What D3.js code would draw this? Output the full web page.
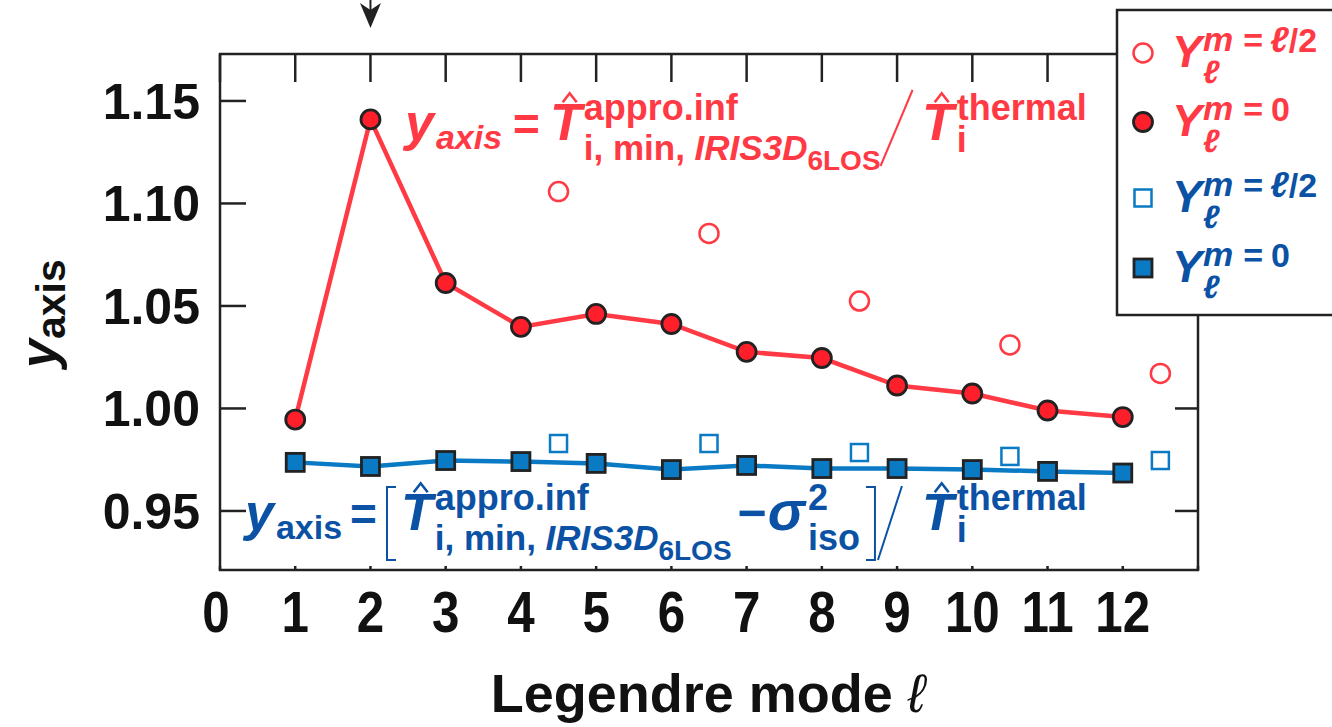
<!DOCTYPE html>
<html>
<head>
<meta charset="utf-8">
<script src="https://cdn.jsdelivr.net/npm/d3@7"></script>
<style>
  html, body { margin: 0; padding: 0; background: #fff; }
  svg text { font-family: "Liberation Sans", Arial, Helvetica, sans-serif; font-weight: bold; }
</style>
</head>
<body>
<svg id="chart" width="1332" height="727"></svg>
<script>
// data
const modes = [1, 2, 3, 4, 5, 6, 7, 8, 9, 10, 11, 12];
const redM0 = [0.9946, 1.1410, 1.0612, 1.0398, 1.0461, 1.0412, 1.0276, 1.0246, 1.0112, 1.0073, 0.9990, 0.9958];
const blueM0 = [0.9737, 0.9717, 0.9746, 0.9741, 0.9732, 0.9702, 0.9722, 0.9707, 0.9707, 0.9702, 0.9693, 0.9685];
const halfModes = [4.5, 6.5, 8.5, 10.5, 12.5];
const redHalf = [1.1058, 1.0854, 1.0524, 1.0310, 1.0171];
const blueHalf = [0.9829, 0.9829, 0.9785, 0.9766, 0.9746];
const xTicks = [0, 1, 2, 3, 4, 5, 6, 7, 8, 9, 10, 11, 12, 13];
const xTickLabels = ['0', '1', '2', '3', '4', '5', '6', '7', '8', '9', '10', '11', '12'];
const yTicks = [0.95, 1.00, 1.05, 1.10, 1.15];
const legendRhs = ['\u2113/2', '0', '\u2113/2', '0'];

const RED = '#ff3a44', RED_FILL = '#ff1f2b', BLUE = '#0a7ac4', BLUE_TXT = '#0b52a5', INK = '#222';

const svg = d3.select('#chart');
const pLeft = 220, pRight = 1198, pTop = 54, pBottom = 570;

const x = d3.scaleLinear().domain([0, 13]).range([pLeft, pRight]);
const y = d3.scaleLinear().domain([0.9212, 1.1729]).range([pBottom, pTop]);

// ticks
const ticks = svg.append('g').attr('stroke', INK).attr('stroke-width', 2.5);
xTicks.forEach(t => {
  ticks.append('line').attr('x1', x(t)).attr('x2', x(t)).attr('y1', pTop).attr('y2', pTop + 28);
  ticks.append('line').attr('x1', x(t)).attr('x2', x(t)).attr('y1', pBottom).attr('y2', pBottom - 4);
});
yTicks.forEach(t => {
  ticks.append('line').attr('x1', pLeft).attr('x2', pLeft + 26).attr('y1', y(t)).attr('y2', y(t));
  ticks.append('line').attr('x1', pRight).attr('x2', pRight - 23).attr('y1', y(t)).attr('y2', y(t));
});

// frame
svg.append('rect').attr('x', pLeft).attr('y', pTop).attr('width', pRight - pLeft).attr('height', pBottom - pTop)
  .attr('fill', 'none').attr('stroke', INK).attr('stroke-width', 2.5);

// tick labels
svg.append('g').selectAll('text').data(xTickLabels).enter().append('text')
  .attr('text-anchor', 'middle')
  .attr('transform', (d, i) => 'translate(' + (x(i) - (i === 0 ? 4 : 0)) + ',632) scale(0.85,1)')
  .style('font-size', '58px').attr('fill', '#111').text(d => d);
svg.append('g').selectAll('text').data(yTicks).enter().append('text')
  .attr('text-anchor', 'end').attr('x', 200).attr('y', d => y(d) + 18)
  .style('font-size', '50px').attr('fill', '#111').text(d => d3.format('.2f')(d));

// axis titles
svg.append('text').attr('x', 708).attr('y', 712).attr('text-anchor', 'middle')
  .style('font-size', '54px').attr('fill', '#111')
  .call(t => {
    t.append('tspan').text('Legendre mode ');
    t.append('tspan').style('font-style', 'italic').style('font-weight', 'normal').text('\u2113');
  });
const yl = svg.append('text').attr('transform', 'translate(56,368) rotate(-90)').attr('fill', '#111');
yl.append('tspan').style('font-size', '52px').style('font-style', 'italic').text('y');
yl.append('tspan').style('font-size', '41px').attr('dy', 9).text('axis');

// lines
const line = d3.line().x(d => x(d[0])).y(d => y(d[1]));
svg.append('path').datum(modes.map((m, i) => [m, blueM0[i]])).attr('d', line)
  .attr('fill', 'none').attr('stroke', BLUE).attr('stroke-width', 4.5);
svg.append('path').datum(modes.map((m, i) => [m, redM0[i]])).attr('d', line)
  .attr('fill', 'none').attr('stroke', RED).attr('stroke-width', 4.5);

// markers
svg.append('g').selectAll('rect').data(halfModes).enter().append('rect')
  .attr('x', (d) => x(d) - 8.5).attr('y', (d, i) => y(blueHalf[i]) - 8.5)
  .attr('width', 17).attr('height', 17).attr('fill', '#fff').attr('stroke', BLUE).attr('stroke-width', 2.5);
svg.append('g').selectAll('rect').data(modes).enter().append('rect')
  .attr('x', (d) => x(d) - 9).attr('y', (d, i) => y(blueM0[i]) - 9)
  .attr('width', 18).attr('height', 18).attr('fill', BLUE).attr('stroke', INK).attr('stroke-width', 2.8);
svg.append('g').selectAll('circle').data(halfModes).enter().append('circle')
  .attr('cx', d => x(d)).attr('cy', (d, i) => y(redHalf[i])).attr('r', 9.5)
  .attr('fill', 'none').attr('stroke', RED).attr('stroke-width', 2.5);
svg.append('g').selectAll('circle').data(modes).enter().append('circle')
  .attr('cx', d => x(d)).attr('cy', (d, i) => y(redM0[i])).attr('r', 9.5)
  .attr('fill', RED_FILL).attr('stroke', INK).attr('stroke-width', 2.8);

// arrow above the l=2 peak
const ax = x(2);
svg.append('line').attr('x1', ax).attr('x2', ax).attr('y1', 0).attr('y2', 12).attr('stroke', INK).attr('stroke-width', 2);
svg.append('path').attr('d', `M${ax - 10.5},3 L${ax},28 L${ax + 10.5},3 L${ax},10 Z`).attr('fill', INK);

// math text helper: lays pieces out left to right, returns end x
function place(g, x0, base, list, color) {
  let cx = x0;
  list.forEach(p => {
    if (p.at !== undefined) cx = p.at;
    if (p.sup || p.sub) {
      cx += p.dx || 0;
      const a = place(g, cx, base, p.sup || [], color);
      const b = place(g, cx, base, p.sub || [], color);
      cx = Math.max(a, b);
    } else if (p.slash) {
      cx += p.dx || 0;
      g.append('line').attr('x1', cx).attr('y1', base + p.lo).attr('x2', cx + p.w).attr('y2', base - p.hi)
        .attr('stroke', color).attr('stroke-width', 2);
      cx += p.w + (p.after || 0);
    } else if (p.bracket) {
      cx += p.dx || 0;
      const s = p.bracket === '[' ? 1 : -1;
      const bx = p.bracket === '[' ? cx : cx + 9;
      g.append('path').attr('d', `M${bx + s * 9},${base - p.hi} H${bx} V${base + p.lo} H${bx + s * 9}`)
        .attr('fill', 'none').attr('stroke', color).attr('stroke-width', 2);
      cx += 9 + (p.after || 0);
    } else {
      cx += p.dx || 0;
      const t = g.append('text').attr('x', cx).attr('y', base + (p.dy || 0)).attr('fill', color)
        .style('font-size', p.fs + 'px').style('font-style', p.it ? 'italic' : 'normal').text(p.t);
      const w = t.node().getComputedTextLength();
      if (p.hat) {
        const hc = cx + w * 0.62, hy = base - p.fs * 0.86;
        g.append('path').attr('d', `M${hc - 7},${hy + 7} L${hc},${hy - 2} L${hc + 7},${hy + 7}`)
          .attr('fill', 'none').attr('stroke', color).attr('stroke-width', 2.6);
      }
      cx += w;
    }
  });
  return cx;
}

const approStack = {
  dx: 2,
  sup: [{ t: 'appro.inf', fs: 36, dy: -20 }],
  sub: [{ t: 'i, min,\u00A0', fs: 35, dy: 20 }, { t: 'IRIS3D', fs: 35, it: true, dy: 20 }, { t: '6LOS', fs: 28, dy: 30 }]
};
const thermal = [
  { t: 'T', fs: 52, it: true, hat: true, at: 922 },
  { dx: 3, sup: [{ t: 'thermal', fs: 36, dy: -20 }], sub: [{ t: 'i', fs: 36, dy: 12 }] }
];

// red annotation
place(svg.append('g'), 405, 140, [
  { t: 'y', fs: 52, it: true },
  { t: 'axis', fs: 34, it: true, dy: 9, dx: 2 },
  { t: '=', fs: 46, dx: 11 },
  { t: 'T', fs: 52, it: true, hat: true, dx: 10 }, approStack,
  { slash: true, dx: 0, w: 32, lo: 26, hi: 50 },
  ...thermal
], RED);

// blue annotation
place(svg.append('g'), 245, 530, [
  { t: 'y', fs: 52, it: true },
  { t: 'axis', fs: 34, dy: 9, dx: 2 },
  { t: '=', fs: 46, dx: 8 },
  { bracket: '[', dx: 10, hi: 43, lo: 30 },
  { t: 'T', fs: 52, it: true, hat: true, dx: 5 }, approStack,
  { t: '\u2212', fs: 50, dx: 6 },
  { t: '\u03C3', fs: 56, it: true, dx: 1 },
  { dx: 3, sup: [{ t: '2', fs: 36, dy: -20 }], sub: [{ t: 'iso', fs: 36, dy: 20 }] },
  { bracket: ']', dx: 6, hi: 43, lo: 30 },
  { slash: true, dx: 3, w: 24, lo: 30, hi: 44 },
  ...thermal
], BLUE_TXT);

// legend
svg.append('rect').attr('x', 1117).attr('y', 10).attr('width', 240).attr('height', 305)
  .attr('fill', '#fff').attr('stroke', INK).attr('stroke-width', 2.5);
const legY = [53, 122, 198, 268];
const lg = svg.append('g');
lg.append('circle').attr('cx', 1143).attr('cy', legY[0]).attr('r', 9.5).attr('fill', 'none').attr('stroke', RED).attr('stroke-width', 2.5);
lg.append('circle').attr('cx', 1143).attr('cy', legY[1]).attr('r', 9.5).attr('fill', RED_FILL).attr('stroke', INK).attr('stroke-width', 2.8);
lg.append('rect').attr('x', 1134.5).attr('y', legY[2] - 8.5).attr('width', 17).attr('height', 17).attr('fill', '#fff').attr('stroke', BLUE).attr('stroke-width', 2.5);
lg.append('rect').attr('x', 1134).attr('y', legY[3] - 9).attr('width', 18).attr('height', 18).attr('fill', BLUE).attr('stroke', INK).attr('stroke-width', 2.8);
legendRhs.forEach((rhs, i) => {
  const c = i < 2 ? RED : BLUE_TXT;
  const rhsPieces = rhs === '0'
    ? [{ t: '0', fs: 34, dy: -15, dx: 8 }]
    : [{ t: '\u2113', fs: 36, it: true, dy: -15, dx: 7 }, { t: '/2', fs: 34, dy: -15 }];
  place(lg, 1172, legY[i] + 14, [
    { t: 'Y', fs: 45, it: true },
    { dx: 1, sup: [{ t: 'm', fs: 34, it: true, dy: -16 }], sub: [{ t: '\u2113', fs: 32, it: true, dy: 16 }] },
    { t: '=', fs: 34, dy: -15, dx: 10 },
    ...rhsPieces
  ], c);
});
</script>
</body>
</html>
